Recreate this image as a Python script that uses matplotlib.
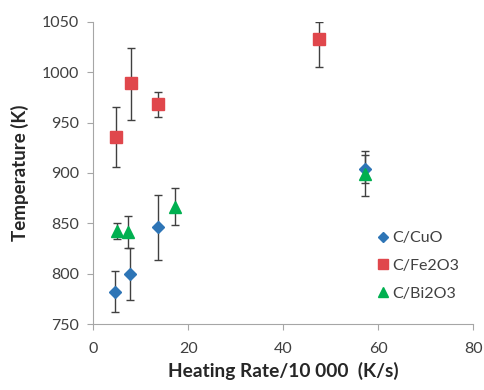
import matplotlib
matplotlib.use("Agg")
from matplotlib import pyplot as plt

# data
cuo_x = [4.5, 7.8, 13.7, 57.1]
cuo_y = [782, 800, 846, 904]
cuo_lo = [762, 774, 814, 890]
cuo_hi = [803, 826, 878, 918]

fe_x = [4.8, 8.0, 13.6, 47.6]
fe_y = [936, 989, 968, 1033]
fe_lo = [906, 953, 956, 1005]
fe_hi = [965, 1024, 980, 1050]

bi_x = [5.0, 7.3, 17.3, 57.3]
bi_y = [842, 841, 866, 899]
bi_lo = [834, 826, 848, 877]
bi_hi = [850, 857, 885, 922]

plt.rcParams['font.family'] = ['Lato', 'DejaVu Sans']

fig = plt.figure(figsize=(4.85, 3.9), dpi=100)
ax = fig.add_axes([0.192, 0.169, 0.784, 0.775])

series = [
    ("C/CuO", cuo_x, cuo_y, cuo_lo, cuo_hi, "D", "#2E75B6", 6),
    ("C/Fe2O3", fe_x, fe_y, fe_lo, fe_hi, "s", "#E0474C", 8),
    ("C/Bi2O3", bi_x, bi_y, bi_lo, bi_hi, "^", "#00B050", 8),
]
for name, x, y, lo, hi, m, c, ms in series:
    err = [[yy - l for yy, l in zip(y, lo)], [h - yy for yy, h in zip(y, hi)]]
    ax.errorbar(x, y, yerr=err, fmt='none', ecolor='#404040', elinewidth=1,
                capsize=3, capthick=1, zorder=2)
    ax.plot(x, y, linestyle='none', marker=m, color=c, markersize=ms,
            label=name, zorder=3)

ax.set_xlim(0, 80)
ax.set_ylim(750, 1050)
ax.set_xticks([0, 20, 40, 60, 80])
ax.set_yticks([750, 800, 850, 900, 950, 1000, 1050])
ax.spines['top'].set_visible(False)
ax.spines['right'].set_visible(False)
for s in ['left', 'bottom']:
    ax.spines[s].set_color('#A6A6A6')
ax.tick_params(colors='#A6A6A6', labelcolor='#404040', labelsize=11.5, length=4)
ax.tick_params(axis='x', pad=9)
ax.tick_params(axis='y', pad=6)

ax.set_xlabel("Heating Rate/10 000  (K/s)", fontsize=13.8, fontweight='bold',
              color='#262626', labelpad=4)
ax.set_ylabel("Temperature (K)", fontsize=13.5, fontweight='bold', color='#262626',
              labelpad=9)

ax.legend(loc='lower right', bbox_to_anchor=(1.0, 0.03), frameon=False,
          fontsize=11.5, handletextpad=0.1, handlelength=1.0, labelspacing=0.85,
          markerscale=0.85, labelcolor='#404040')

fig.savefig("out.png", dpi=100)
